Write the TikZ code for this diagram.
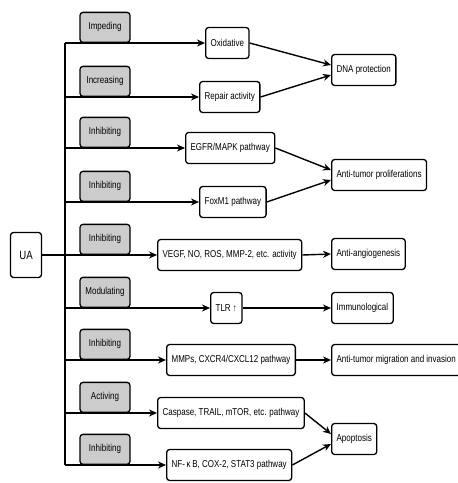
\documentclass[tikz,border=0pt]{standalone}
\usepackage{fontspec}
\setmainfont{Liberation Sans}[FakeStretch=0.8]
\usetikzlibrary{arrows.meta}
\begin{document}
\begin{tikzpicture}[x=1pt,y=-1pt,
  box/.style={draw=black, line width=1.3pt, rounded corners=3pt, fill=white,
    minimum height=31pt, inner xsep=5pt, font=\fontsize{10}{11}\selectfont},
  tag/.style={draw=black, line width=1.3pt, rounded corners=3pt, fill=gray!40,
    minimum width=50pt, minimum height=30pt, anchor=south, font=\fontsize{10}{11}\selectfont},
  link/.style={line width=1.4pt, -{Stealth[length=8pt,width=7pt]}}]
\useasboundingbox (0,0) rectangle (458,483);
% trunk
\coordinate (t1) at (65,43);
\coordinate (t2) at (65,97);
\coordinate (t3) at (65,148);
\coordinate (t4) at (65,202);
\coordinate (t5) at (65,255);
\coordinate (t6) at (65,308);
\coordinate (t7) at (65,360);
\coordinate (t8) at (65,413);
\coordinate (t9) at (65,465);
\node [box, minimum width=31pt, minimum height=45pt] (ua) at (26,255) {\fontsize{12}{13}\selectfont UA};
% tags
\node [tag] (l1) at (105,43) {Impeding};
\node [tag] (l2) at (105,97) {Increasing};
\node [tag] (l3) at (105,148) {Inhibiting};
\node [tag] (l4) at (105,202) {Inhibiting};
\node [tag] (l5) at (105,255) {Inhibiting};
\node [tag] (l6) at (105,308) {Modulating};
\node [tag] (l7) at (105,360) {Inhibiting};
\node [tag] (l8) at (105,413) {Activing};
\node [tag] (l9) at (105,465) {Inhibiting};
% middle column
\node [box, anchor=west] (ox) at (205,43) {Oxidative};
\node [box, anchor=west] (rep) at (199,97) {Repair activity};
\node [box, anchor=west] (egfr) at (185,148) {EGFR/MAPK pathway};
\node [box, anchor=west] (foxm) at (199,202) {FoxM1 pathway};
\node [box, anchor=west] (vegf) at (157,255) {VEGF, NO, ROS, MMP-2, etc. activity};
\node [box, anchor=west] (tlr) at (210,308) {TLR ↑};
\node [box, anchor=west] (mmp) at (166,360) {MMPs, CXCR4/CXCL12 pathway};
\node [box, anchor=west] (casp) at (157,413) {Caspase, TRAIL, mTOR, etc. pathway};
\node [box, anchor=west] (nfkb) at (166,465) {NF-\,κ\,B, COX-2, STAT3 pathway};
% effects
\node [box, anchor=west] (dna) at (331,70) {DNA protection};
\node [box, anchor=west] (prolif) at (331,175) {Anti-tumor proliferations};
\node [box, anchor=west] (angio) at (331,254) {Anti-angiogenesis};
\node [box, anchor=west] (immu) at (331,308) {Immunological};
\node [box, anchor=west] (migr) at (331,360) {Anti-tumor migration and invasion};
\node [box, anchor=west] (apop) at (331,439) {Apoptosis};
% connectors
\draw [line width=1.4pt] (t1) -- (t9);
\draw [line width=1.4pt] (ua.east) -- (t5);
\draw [link] (t1) -- (ox.west);
\draw [link] (t2) -- (rep.west);
\draw [link] (t3) -- (egfr.west);
\draw [link] (t4) -- (foxm.west);
\draw [link] (t5) -- (vegf.west);
\draw [link] (t6) -- (tlr.west);
\draw [link] (t7) -- (mmp.west);
\draw [link] (t8) -- (casp.west);
\draw [link] (t9) -- (nfkb.west);
\draw [link] (ox.east) -- ([yshift=5pt]dna.west);
\draw [link] (rep.east) -- ([yshift=-5pt]dna.west);
\draw [link] (egfr.east) -- ([yshift=5pt]prolif.west);
\draw [link] (foxm.east) -- ([yshift=-5pt]prolif.west);
\draw [link] (vegf.east) -- (angio.west);
\draw [link] (tlr.east) -- (immu.west);
\draw [link] (mmp.east) -- (migr.west);
\draw [link] (casp.east) -- ([yshift=5pt]apop.west);
\draw [link] (nfkb.east) -- ([yshift=-5pt]apop.west);
\end{tikzpicture}
\end{document}
